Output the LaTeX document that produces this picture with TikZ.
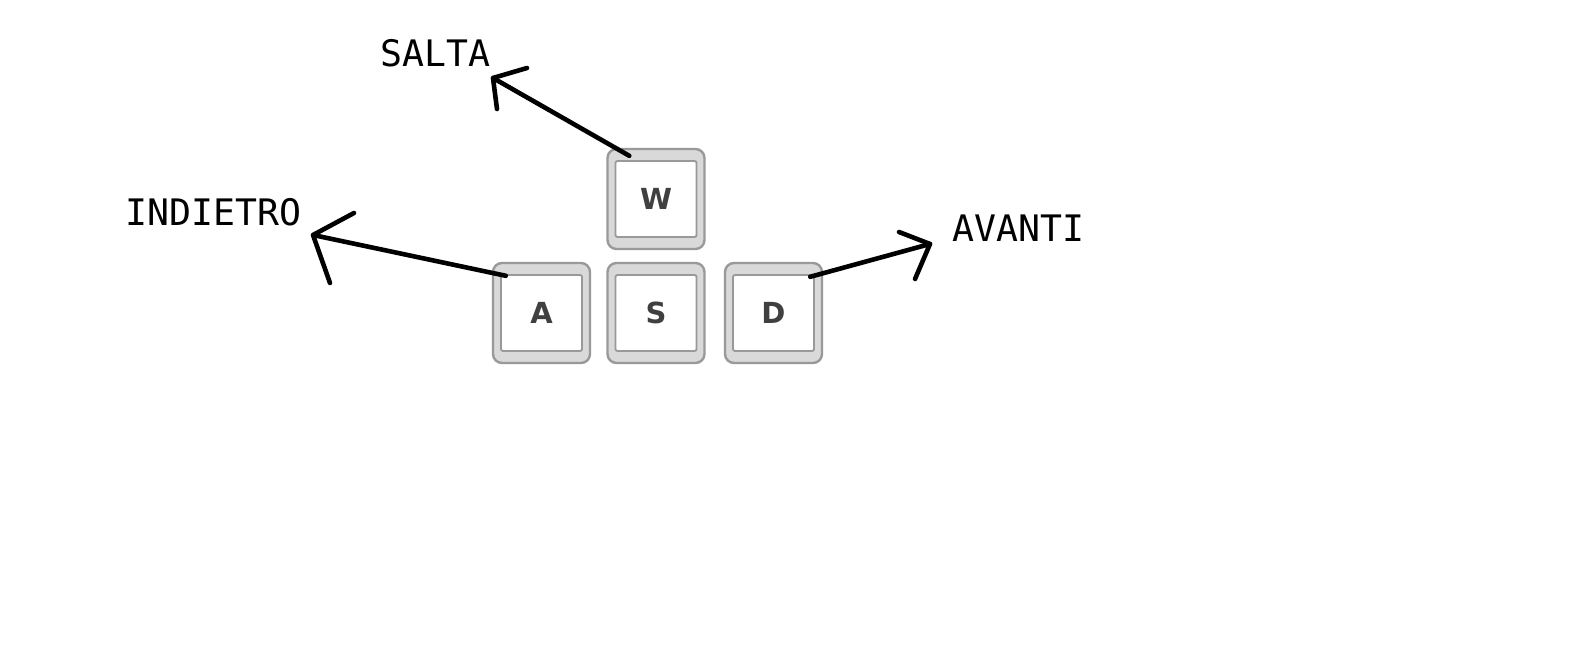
\documentclass[tikz,border=0pt]{standalone}
\usepackage{fontspec}
\newfontfamily\labelfont{DejaVu Sans Mono}
\newfontfamily\keyfont{DejaVu Sans}[BoldFont={DejaVu Sans Bold}]
\begin{document}
\begin{tikzpicture}[x=1pt,y=-1pt,
  keycap/.style={rectangle, minimum width=97pt, minimum height=100pt, inner sep=0pt,
    rounded corners=9pt, draw=gray!80, line width=2.4pt,
    font=\keyfont\bfseries\fontsize{29}{29}\selectfont, text=black!75,
    path picture={
      \fill[gray!30] (path picture bounding box.south west) rectangle (path picture bounding box.north east);
      \draw[gray!80, line width=1.8pt, fill=white, rounded corners=2pt]
        ([xshift=8pt,yshift=12pt]path picture bounding box.south west) rectangle
        ([xshift=-8pt,yshift=-12pt]path picture bounding box.north east);
    }},
  lbl/.style={anchor=base west, inner sep=0pt, font=\labelfont\fontsize{36.5}{36.5}\selectfont},
  arr/.style={line width=4.6pt, line cap=round, line join=round, black}]
\useasboundingbox (0,0) rectangle (1576,660);
\fill[white] (0,0) rectangle (1576,660);

\node[keycap] (W) at (656,199) {W};
\node[keycap] (A) at (541.5,313) {A};
\node[keycap] (S) at (656,313) {S};
\node[keycap] (D) at (773.5,313) {D};

\node[lbl] (salta) at (380,67) {SALTA};
\node[lbl] (indietro) at (125,226) {INDIETRO};
\node[lbl] (avanti) at (952,242) {AVANTI};

% SALTA arrow
\coordinate (wt) at ([shift={(23,8)}]W.north west);
\coordinate (st) at (493,78);
\coordinate (s1) at (527,68);
\coordinate (s2) at (497,109);
\draw[arr] (wt) -- (st);
\draw[arr] (s1) -- (st) -- (s2);

% INDIETRO arrow
\coordinate (at) at ([shift={(14,14)}]A.north west);
\coordinate (it) at (313,235);
\coordinate (i1) at (354,213);
\coordinate (i2) at (330,283);
\draw[arr] (at) -- (it);
\draw[arr] (i1) -- (it) -- (i2);

% AVANTI arrow
\coordinate (dt) at ([shift={(-13,15)}]D.north east);
\coordinate (vt) at (930,244);
\coordinate (v1) at (899,232);
\coordinate (v2) at (915,279);
\draw[arr] (dt) -- (vt);
\draw[arr] (v1) -- (vt) -- (v2);
\end{tikzpicture}
\end{document}
